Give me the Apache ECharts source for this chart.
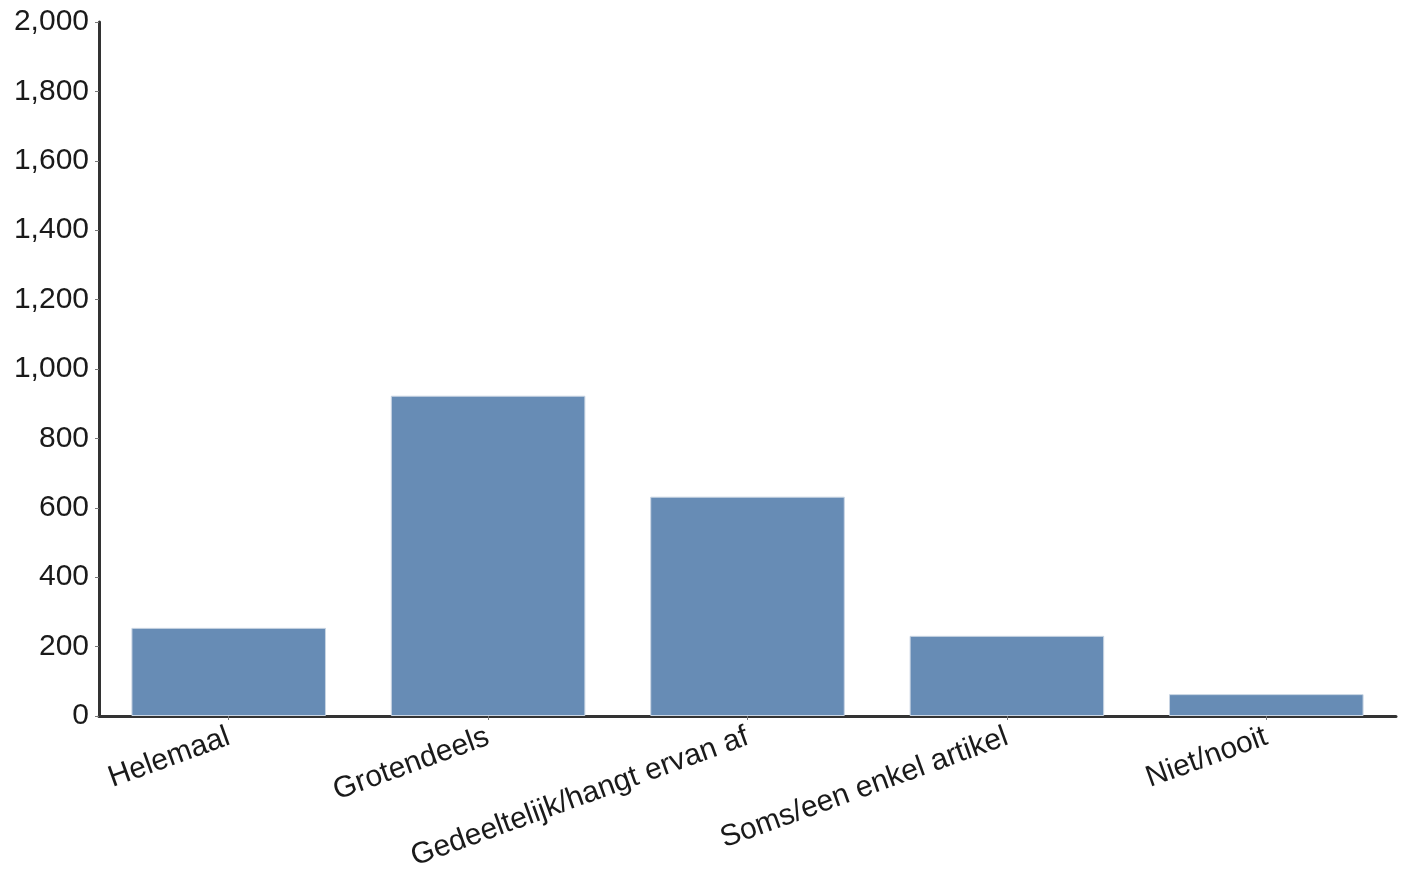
<!DOCTYPE html>
<html>
<head>
<meta charset="utf-8">
<script src="https://cdn.jsdelivr.net/npm/echarts@6/dist/echarts.min.js"></script>
<style>html,body{margin:0;padding:0;background:#fff}#c{width:1408px;height:876px}</style>
</head>
<body>
<div id="c"></div>
<script>
var categories = ["Helemaal", "Grotendeels", "Gedeeltelijk/hangt ervan af", "Soms/een enkel artikel", "Niet/nooit"];
var values = [254, 923, 632, 231, 63];
var yTicks = { min: 0, max: 2000, interval: 200 };

var chart = echarts.init(document.getElementById('c'), null, { renderer: 'canvas' });
chart.setOption({
  animation: false,
  backgroundColor: '#ffffff',
  grid: { left: 99, right: 12, top: 22, bottom: 160, containLabel: false },
  xAxis: {
    type: 'category',
    data: categories,
    axisLine: { show: true, lineStyle: { color: '#333333', width: 3 } },
    axisTick: { show: true, alignWithLabel: true, length: 4, lineStyle: { color: '#777777', width: 1 } },
    axisLabel: { rotate: 20, margin: 20, fontFamily: 'Liberation Sans, Arial, sans-serif', fontSize: 30, color: '#1a1a1a', interval: 0 }
  },
  yAxis: {
    type: 'value',
    min: yTicks.min, max: yTicks.max, interval: yTicks.interval,
    axisLine: { show: true, lineStyle: { color: '#333333', width: 3 } },
    axisTick: { show: true, length: 4, lineStyle: { color: '#777777', width: 1 } },
    splitLine: { show: false },
    axisLabel: {
      margin: 10, fontFamily: 'Liberation Sans, Arial, sans-serif', fontSize: 30, color: '#1a1a1a',
      formatter: function (v) { return v.toLocaleString('en-US'); }
    }
  },
  series: [{
    type: 'bar',
    data: values,
    barCategoryGap: '25%',
    itemStyle: { color: '#678cb5', borderColor: '#c9d5e3', borderWidth: 1 }
  }]
});
</script>
</body>
</html>
